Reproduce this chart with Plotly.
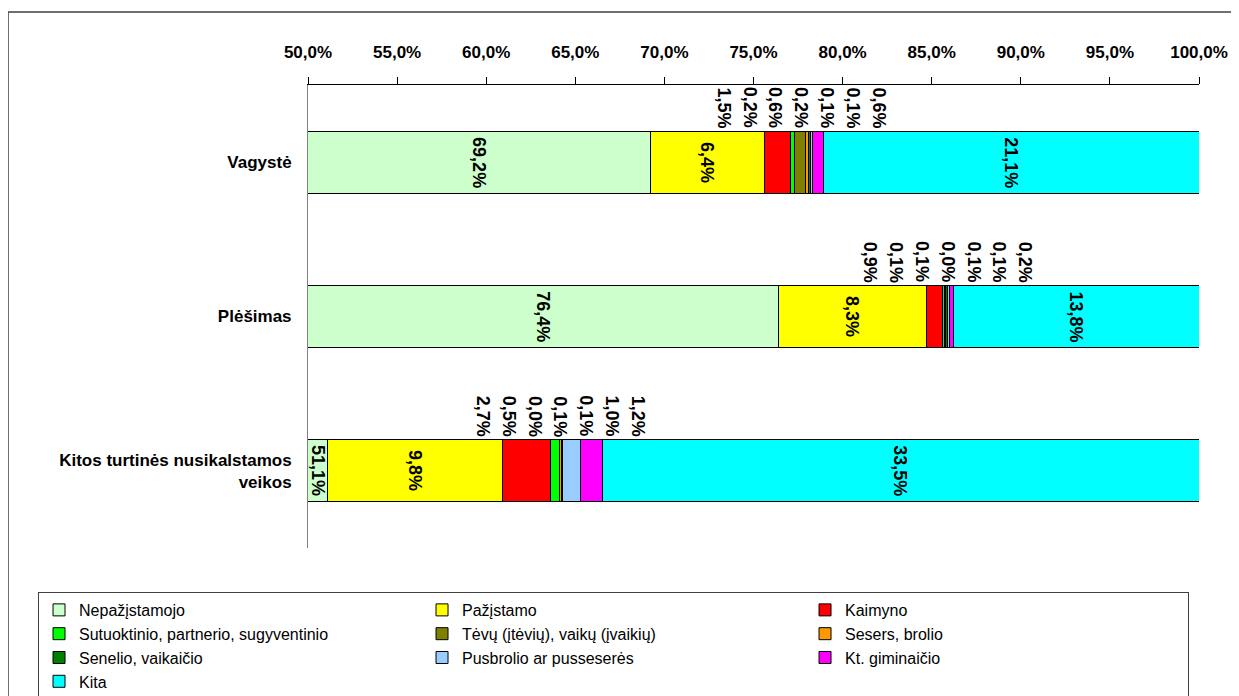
import plotly.graph_objects as go

# categories (top to bottom)
categories = ['Vagystė', 'Plėšimas', 'Kitos turtinės nusikalstamos<br>veikos']

# series values, % per category
nepazistamojo = [69.2, 76.4, 51.1]
pazistamo = [6.4, 8.3, 9.8]
kaimyno = [1.5, 0.9, 2.7]
sutuoktinio = [0.2, 0.1, 0.5]
tevu = [0.6, 0.1, 0.0]
sesers = [0.2, 0.0, 0.1]
senelio = [0.1, 0.1, 0.1]
pusbrolio = [0.1, 0.1, 1.0]
giminaicio = [0.6, 0.2, 1.2]
kita = [21.1, 13.8, 33.5]

series = [
    ('Nepažįstamojo', nepazistamojo, '#CCFFCC'),
    ('Pažįstamo', pazistamo, '#FFFF00'),
    ('Kaimyno', kaimyno, '#FF0000'),
    ('Sutuoktinio, partnerio, sugyventinio', sutuoktinio, '#00FF00'),
    ('Tėvų (įtėvių), vaikų (įvaikių)', tevu, '#808000'),
    ('Sesers, brolio', sesers, '#FF9900'),
    ('Senelio, vaikaičio', senelio, '#008000'),
    ('Pusbrolio ar pusseserės', pusbrolio, '#99CCFF'),
    ('Kt. giminaičio', giminaicio, '#FF00FF'),
    ('Kita', kita, '#00FFFF'),
]

x_ticks = [50, 55, 60, 65, 70, 75, 80, 85, 90, 95, 100]
x_min, x_max = 50, 100

FONT = 'Liberation Sans, Arial, sans-serif'


def fmt(v):
    return f'{v:.1f}'.replace('.', ',') + '%'


fig = go.Figure()

for name, vals, color in series:
    fig.add_trace(go.Bar(
        y=categories,
        x=vals,
        orientation='h',
        name=name,
        marker=dict(color=color, line=dict(color='black', width=1)),
        hoverinfo='skip'
    ))

# data labels: big segments inside the bar, small ones spread above it
annotations = []
inside = {0, 1, len(series) - 1}
for ci, cat in enumerate(categories):
    start = 0.0
    small = []
    for si, (name, vals, color) in enumerate(series):
        v = vals[ci]
        end = start + v
        if si in inside:
            mid = (max(start, x_min) + end) / 2
            annotations.append(dict(
                x=mid, y=cat, text=fmt(v), showarrow=False, textangle=90,
                font=dict(family=FONT, size=18, color='black', weight='bold'),
                xanchor='center', yanchor='middle'
            ))
        else:
            small.append((start, end, v))
        start = end
    lo = small[0][0]
    hi = small[-1][1]
    centre = (lo + hi) / 2 + 0.45
    n = len(small)
    for k, (s, e, v) in enumerate(small):
        annotations.append(dict(
            x=centre + (k - (n - 1) / 2) * 1.45, y=cat, text=fmt(v),
            showarrow=False, textangle=90, yshift=32,
            font=dict(family=FONT, size=18, color='black', weight='bold'),
            xanchor='center', yanchor='bottom'
        ))

fig.update_layout(
    barmode='stack',
    bargap=0.6,
    width=1231,
    height=688,
    margin=dict(l=300, r=40, t=77, b=148, autoexpand=False),
    paper_bgcolor='white',
    plot_bgcolor='white',
    font=dict(family=FONT, color='black'),
    annotations=annotations,
    xaxis=dict(
        side='top',
        range=[x_min, x_max],
        tickvals=x_ticks,
        ticktext=[fmt(t) for t in x_ticks],
        ticks='outside',
        ticklen=7,
        tickcolor='black',
        ticklabelstandoff=12,
        showline=True,
        linecolor='black',
        linewidth=1,
        showgrid=False,
        zeroline=False,
        tickfont=dict(family=FONT, size=17, color='black', weight='bold'),
    ),
    yaxis=dict(
        autorange='reversed',
        showline=True,
        linecolor='#808080',
        linewidth=1,
        showgrid=False,
        ticks='',
        ticklabelstandoff=12,
        tickfont=dict(family=FONT, size=17, color='black', weight='bold'),
    ),
    legend=dict(
        orientation='h',
        x=-0.303, xanchor='left',
        y=-0.095, yanchor='top',
        entrywidth=338,
        bordercolor='#404040',
        borderwidth=1,
        bgcolor='white',
        traceorder='normal',
        font=dict(family=FONT, size=16, color='black'),
        itemclick=False,
        itemdoubleclick=False,
    ),
    shapes=[dict(
        type='rect', xref='paper', yref='paper',
        x0=-0.3367, x1=1.0404, y0=-0.33, y1=1.1577,
        line=dict(color='#404040', width=1.5), layer='below'
    )],
)

fig.write_html('out.html')
